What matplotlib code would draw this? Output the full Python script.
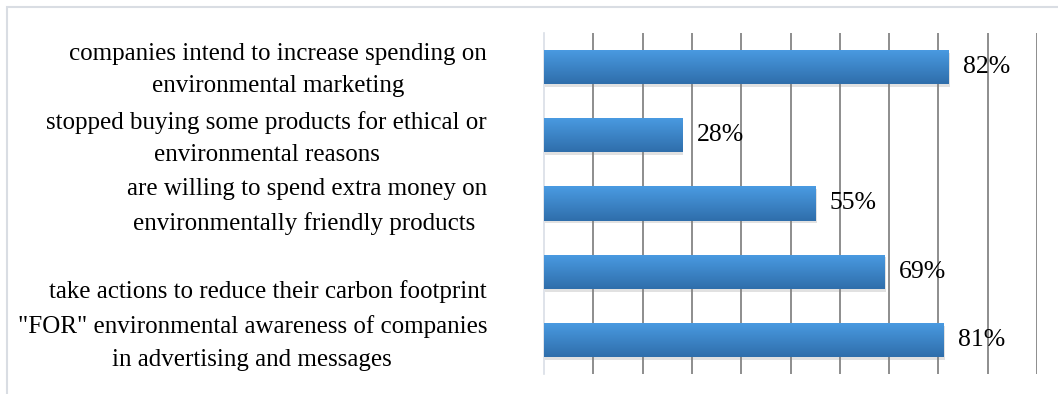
import numpy as np
import matplotlib
matplotlib.use("Agg")
import matplotlib.pyplot as plt
from matplotlib.patches import Rectangle
import matplotlib.patheffects as pe
import matplotlib.transforms as mtransforms

categories = [
    "companies intend to increase spending on\nenvironmental marketing",
    "stopped buying some products for ethical or\nenvironmental reasons",
    "are willing to spend extra money on\nenvironmentally friendly products ",
    "\ntake actions to reduce their carbon footprint",
    "\"FOR\" environmental awareness of companies\nin advertising and messages",
]
values = [82, 28, 55, 69, 81]
value_labels = ["82%", "28%", "55%", "69%", "81%"]

plt.rcParams['font.family'] = ['Liberation Serif', 'DejaVu Serif']

W, H = 1058, 394
fig = plt.figure(figsize=(W / 100, H / 100), dpi=100)
fig.patch.set_facecolor('white')

# chart-area border
fig.patches.append(Rectangle((7 / W, -0.05), 1.1, 1 - 7 / H + 0.05, transform=fig.transFigure,
                             fill=False, edgecolor='#d9dde3', linewidth=1.5))

ax = fig.add_axes([544 / W, 1 - 374 / H, (1037 - 544) / W, (374 - 33) / H])
n = len(values)
ypos = np.arange(n)[::-1]
h = 0.5
bars = ax.barh(ypos, values, height=h, color='#3d85c9', zorder=3,
               path_effects=[pe.SimplePatchShadow(offset=(1, -2), shadow_rgbFace='#888888', alpha=0.25),
                             pe.Normal()])

top = np.array([0x4a, 0x9b, 0xe2]) / 255
bot = np.array([0x2f, 0x6e, 0xab]) / 255
t = np.linspace(0, 1, 64)[:, None]
grad = (top[None, :] * (1 - t) + bot[None, :] * t)[:, None, :]

for b, v, y in zip(bars, values, ypos):
    im = ax.imshow(grad, extent=(0, v, y - h / 2, y + h / 2), origin='upper',
                   aspect='auto', zorder=4, interpolation='bilinear')
    im.set_clip_path(b)

for v, y, lab in zip(values, ypos, value_labels):
    ax.annotate(lab, xy=(v, y), xytext=(10.5, 0), textcoords='offset points',
                ha='left', va='center', fontsize=18.5, color='#000000', zorder=5)

ax.set_xlim(0, 100)
ax.set_ylim(-0.5, n - 0.5)
ax.set_xticks(np.arange(10, 101, 10))
ax.xaxis.grid(True, color='#858585', linewidth=1.3, zorder=0)
ax.tick_params(axis='x', length=0, labelbottom=False)
ax.set_yticks(ypos)
ax.set_yticklabels(categories, fontsize=18, multialignment='center', linespacing=1.62)
ax.tick_params(axis='y', length=0, pad=41)
shift = mtransforms.ScaledTranslation(0, -3 / 100, fig.dpi_scale_trans)
for lbl in ax.get_yticklabels():
    lbl.set_verticalalignment('center')
    lbl.set_transform(lbl.get_transform() + shift)
for s in ['top', 'right', 'bottom']:
    ax.spines[s].set_visible(False)
ax.spines['left'].set_color('#d9dee6')
ax.spines['left'].set_linewidth(1.2)
ax.set_axisbelow(True)

fig.savefig('out.png', dpi=100)
